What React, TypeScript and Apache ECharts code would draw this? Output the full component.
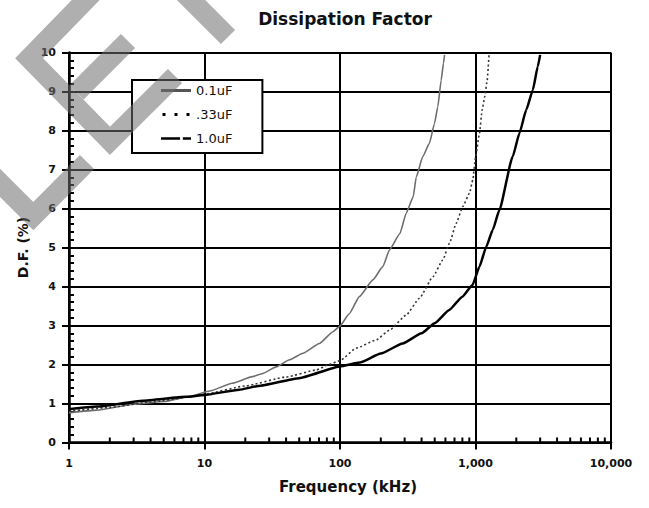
import React, { useEffect, useRef } from "react";
import * as echarts from "echarts";

// ---- data ----
const seriesNames = ["0.1uF", ".33uF", "1.0uF"];

const freq01 = [1, 1.6, 3, 5, 8.2, 10.9, 16, 22.6, 26.9, 33.8, 42.4, 53.3, 70.5, 88.6, 99, 117, 139, 175, 207, 232, 277, 308, 347, 365, 408, 457, 498, 527, 558, 580, 591];
const df01 = [0.76, 0.83, 0.98, 1.05, 1.2, 1.32, 1.52, 1.69, 1.77, 1.94, 2.12, 2.29, 2.54, 2.84, 2.97, 3.3, 3.74, 4.17, 4.51, 4.94, 5.36, 5.88, 6.3, 6.8, 7.33, 7.67, 8.18, 8.61, 9.29, 9.72, 9.94];

const freq033 = [1, 2, 4, 8, 10, 20, 40, 67, 83, 100, 132, 185, 232, 308, 386, 485, 574, 643, 720, 806, 903, 955, 1000, 1070, 1120, 1170, 1220, 1258];
const df033 = [0.8, 0.9, 1.04, 1.17, 1.24, 1.45, 1.68, 1.86, 2.0, 2.1, 2.42, 2.63, 2.88, 3.27, 3.7, 4.25, 4.68, 5.11, 5.62, 6.05, 6.39, 6.73, 7.3, 7.93, 8.53, 8.87, 9.29, 9.94];

const freq10 = [1, 1.6, 3.5, 7.3, 10, 18, 25, 50, 100, 140, 200, 290, 400, 500, 640, 800, 950, 1070, 1200, 1340, 1500, 1880, 2110, 2370, 2650, 2880, 3000];
const df10 = [0.85, 0.92, 1.07, 1.17, 1.22, 1.35, 1.45, 1.65, 1.95, 2.05, 2.28, 2.54, 2.8, 3.06, 3.4, 3.74, 4.04, 4.51, 5.02, 5.45, 5.96, 7.33, 7.93, 8.53, 9.04, 9.64, 9.94];

const xTickLabels = ["1", "10", "100", "1,000", "10,000"];
const decades = [1, 10, 100, 1000];
const minorMultipliers = [2, 3, 4, 5, 6, 7, 8, 9];

const FONT = "DejaVu Sans";

function zip(xs: number[], ys: number[]) {
  return xs.map((x, i) => [x, ys[i]]);
}

export default function App() {
  const ref = useRef<HTMLDivElement>(null);

  useEffect(() => {
    if (!ref.current) return;
    const chart = echarts.init(ref.current, null, { renderer: "svg" });

    const minorTicks: number[][] = [];
    decades.forEach((d) => minorMultipliers.forEach((m) => minorTicks.push([d * m, 0])));

    const wm = "rgba(110,110,110,0.55)";
    const stripe = (points: number[][]) => ({
      type: "polyline",
      z: 100,
      silent: true,
      shape: { points },
      style: { stroke: wm, lineWidth: 20, fill: null, lineJoin: "miter", lineCap: "butt" },
    });

    const option: any = {
      animation: false,
      backgroundColor: "#fff",
      title: {
        text: "Dissipation Factor",
        left: 340,
        top: 5,
        textAlign: "center",
        textStyle: { fontFamily: FONT, fontWeight: "bold", fontSize: 17, color: "#111" },
      },
      legend: {
        orient: "vertical",
        left: 132,
        top: 80,
        backgroundColor: "#fff",
        borderColor: "#000",
        borderWidth: 2,
        borderRadius: 0,
        padding: [4, 30, 8, 29],
        itemWidth: 30,
        itemHeight: 3,
        itemGap: 11,
        itemStyle: { borderWidth: 0 },
        textStyle: { fontFamily: FONT, fontSize: 13, color: "#111" },
        data: [
          { name: seriesNames[0], icon: "path://M0,0h30v3h-30z", itemStyle: { color: "#555", borderWidth: 0 } },
          { name: seriesNames[1], icon: "path://M0,0h3v3h-3zM12,0h3v3h-3zM24,0h3v3h-3z", itemStyle: { color: "#000", borderWidth: 0 } },
          { name: seriesNames[2], icon: "path://M0,0h21v3h-21zM24,0h9v3h-9z", itemStyle: { color: "#000", borderWidth: 0 } },
        ],
      },
      grid: { left: 69, right: 38, top: 52.5, bottom: 65.5, containLabel: false, outerBoundsMode: "none" },
      xAxis: {
        type: "log",
        logBase: 10,
        min: 1,
        max: 10000,
        name: "Frequency (kHz)",
        nameLocation: "middle",
        nameGap: 37,
        nameTextStyle: { fontFamily: FONT, fontWeight: "bold", fontSize: 15, color: "#111", padding: [0, 0, 0, 16] },
        axisLine: { lineStyle: { color: "#000", width: 2.5 } },
        axisTick: { show: true, inside: false, length: 7, lineStyle: { color: "#000", width: 2 } },
        minorTick: { show: false },
        splitLine: { show: true, lineStyle: { color: "#000", width: 2 } },
        axisLabel: {
          margin: 15,
          fontFamily: FONT,
          fontWeight: "bold",
          fontSize: 11,
          color: "#111",
          formatter: (v: number) => xTickLabels[Math.round(Math.log10(v))] ?? String(v),
        },
      },
      yAxis: [
        {
          type: "value",
          min: 0,
          max: 10,
          interval: 1,
          position: "left",
          name: "D.F. (%)",
          nameLocation: "middle",
          nameGap: 38,
          nameRotate: 90,
          nameTextStyle: { fontFamily: FONT, fontWeight: "bold", fontSize: 14, color: "#111" },
          axisLine: { show: true, lineStyle: { color: "#000", width: 2.5 } },
          axisTick: { show: true, inside: false, length: 7, lineStyle: { color: "#000", width: 2 } },
          splitLine: { show: true, lineStyle: { color: "#000", width: 2 } },
          axisLabel: { margin: 13, fontFamily: FONT, fontWeight: "bold", fontSize: 11, color: "#111" },
        },
        {
          type: "value",
          min: 0,
          max: 10,
          interval: 0.2,
          position: "left",
          offset: 0,
          axisLine: { show: false },
          axisTick: { show: true, inside: true, length: 5, lineStyle: { color: "#000", width: 2 } },
          splitLine: { show: false },
          axisLabel: { show: false },
        },
      ],
      series: [
        {
          name: seriesNames[0],
          type: "line",
          data: zip(freq01, df01),
          symbol: "none",
          showSymbol: false,
          smooth: 0.15,
          smoothMonotone: "x",
          lineStyle: { color: "#6e6e6e", width: 1.6, type: "solid" },
          itemStyle: { color: "#6e6e6e" },
          z: 3,
        },
        {
          name: seriesNames[1],
          type: "line",
          data: zip(freq033, df033),
          symbol: "none",
          showSymbol: false,
          smooth: 0.15,
          smoothMonotone: "x",
          lineStyle: { color: "#333", width: 1.6, type: [2, 2.5] },
          itemStyle: { color: "#333" },
          z: 3,
        },
        {
          name: seriesNames[2],
          type: "line",
          data: zip(freq10, df10),
          symbol: "none",
          showSymbol: false,
          smooth: 0.15,
          smoothMonotone: "x",
          lineStyle: { color: "#000", width: 2.5, type: "solid" },
          itemStyle: { color: "#000" },
          z: 3,
        },
        {
          name: "minorTicksX",
          type: "custom",
          silent: true,
          data: minorTicks,
          encode: { x: 0, y: 1 },
          z: 4,
          renderItem: (params: any, api: any) => {
            const p = api.coord([api.value(0), api.value(1)]);
            return {
              type: "line",
              shape: { x1: p[0], y1: p[1], x2: p[0], y2: p[1] - 5 },
              style: { stroke: "#000", lineWidth: 2 },
            };
          },
        },
      ],
      graphic: [
        // watermark strokes
        stripe([[110, -25], [29.1, 58.3], [110, 140.9], [175, 76]]),
        stripe([[76.6, 92.4], [128, 41]]),
        stripe([[170, -21], [228, 37]]),
        stripe([[-20, 163], [33.3, 216], [87, 162]]),
      ],
    };

    chart.setOption(option);
    return () => chart.dispose();
  }, []);

  return (
    <div
      ref={ref}
      style={{ position: "fixed", left: 0, top: 0, width: 649, height: 508, background: "#fff" }}
    />
  );
}
